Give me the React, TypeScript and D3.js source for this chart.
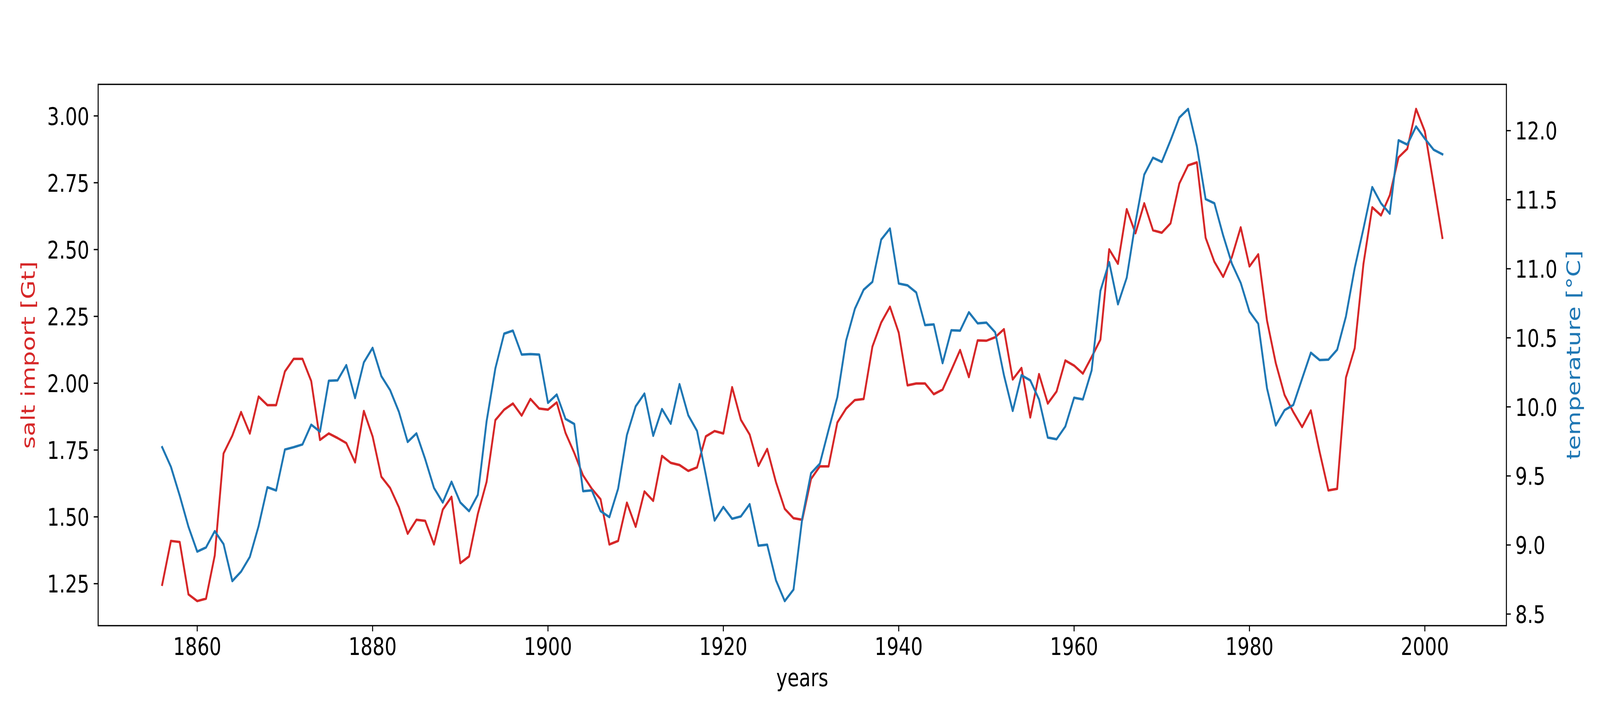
import * as d3 from "d3";

// years and the two series
const years: number[] = d3.range(1856, 2003);

const saltImport: number[] = [
  1.246, 1.41, 1.406, 1.21, 1.185, 1.194, 1.356, 1.737, 1.804, 1.892,
  1.812, 1.95, 1.918, 1.918, 2.044, 2.091, 2.091, 2.008, 1.788, 1.812,
  1.795, 1.776, 1.704, 1.896, 1.801, 1.65, 1.608, 1.536, 1.437, 1.489,
  1.485, 1.397, 1.527, 1.575, 1.327, 1.352, 1.511, 1.631, 1.862, 1.901,
  1.924, 1.879, 1.941, 1.905, 1.901, 1.928, 1.814, 1.739, 1.655, 1.605,
  1.566, 1.397, 1.41, 1.553, 1.463, 1.595, 1.56, 1.728, 1.702, 1.694,
  1.672, 1.685, 1.801, 1.821, 1.812, 1.985, 1.863, 1.808, 1.691, 1.754,
  1.63, 1.53, 1.495, 1.489, 1.642, 1.689, 1.689, 1.853, 1.905, 1.937,
  1.941, 2.137, 2.227, 2.286, 2.189, 1.992, 1.999, 1.999, 1.959, 1.976,
  2.049, 2.124, 2.023, 2.16, 2.159, 2.172, 2.202, 2.014, 2.057, 1.872,
  2.034, 1.924, 1.969, 2.085, 2.066, 2.036, 2.098, 2.163, 2.501, 2.447,
  2.651, 2.561, 2.673, 2.572, 2.563, 2.598, 2.747, 2.815, 2.826, 2.544,
  2.454, 2.398, 2.473, 2.583, 2.437, 2.482, 2.234, 2.075, 1.956, 1.892,
  1.836, 1.898, 1.743, 1.599, 1.605, 2.021, 2.131, 2.447, 2.658, 2.628,
  2.703, 2.845, 2.877, 3.026, 2.942, 2.744, 2.544,
];

const temperature: number[] = [
  9.708, 9.566, 9.358, 9.132, 8.952, 8.982, 9.1, 9.007, 8.739, 8.807,
  8.914, 9.137, 9.418, 9.395, 9.691, 9.708, 9.728, 9.871, 9.821, 10.189,
  10.192, 10.302, 10.064, 10.322, 10.427, 10.222, 10.121, 9.964, 9.746, 9.808,
  9.621, 9.413, 9.308, 9.458, 9.308, 9.245, 9.363, 9.896, 10.279, 10.53,
  10.552, 10.379, 10.382, 10.379, 10.029, 10.089, 9.913, 9.876, 9.39, 9.395,
  9.245, 9.202, 9.408, 9.796, 10.004, 10.096, 9.791, 9.984, 9.878, 10.164,
  9.939, 9.826, 9.508, 9.177, 9.275, 9.19, 9.207, 9.295, 8.995, 9.002,
  8.744, 8.594, 8.677, 9.195, 9.52, 9.588, 9.833, 10.071, 10.48, 10.71,
  10.848, 10.905, 11.211, 11.291, 10.893, 10.88, 10.828, 10.592, 10.597, 10.317,
  10.555, 10.552, 10.685, 10.605, 10.61, 10.54, 10.229, 9.971, 10.229, 10.192,
  10.054, 9.778, 9.766, 9.858, 10.066, 10.054, 10.264, 10.84, 11.048, 10.743,
  10.935, 11.336, 11.682, 11.804, 11.774, 11.93, 12.095, 12.157, 11.887, 11.504,
  11.474, 11.241, 11.036, 10.898, 10.69, 10.602, 10.134, 9.866, 9.976, 10.014,
  10.204, 10.392, 10.339, 10.342, 10.414, 10.655, 11.005, 11.291, 11.591, 11.474,
  11.399, 11.93, 11.899, 12.03, 11.942, 11.862, 11.829,
];

const xTicks: number[] = [1860, 1880, 1900, 1920, 1940, 1960, 1980, 2000];
const saltTicks: number[] = [1.25, 1.5, 1.75, 2.0, 2.25, 2.5, 2.75, 3.0];
const tempTicks: number[] = [8.5, 9.0, 9.5, 10.0, 10.5, 11.0, 11.5, 12.0];

const width = 5282;
const height = 1800;
const margin = { top: 216, right: 309, bottom: 198, left: 324 };
const red = "#d62728";
const blue = "#1f77b4";
const font = "DejaVu Sans";
const fontSize = 62.5;
const tickLen = 14.6;
const tickPad = 14.6;

// matplotlib style 5% padding around the data
const padded = (vals: number[]): [number, number] => {
  const [lo, hi] = d3.extent(vals) as [number, number];
  const m = (hi - lo) * 0.05;
  return [lo - m, hi + m];
};

const App = () => {
  const left = margin.left;
  const right = width - margin.right;
  const top = margin.top;
  const bottom = height - margin.bottom;

  const x = d3.scaleLinear().domain(padded(years)).range([left, right]);
  const ySalt = d3.scaleLinear().domain(padded(saltImport)).range([bottom, top]);
  const yTemp = d3.scaleLinear().domain(padded(temperature)).range([bottom, top]);

  const saltLine = d3
    .line<number>()
    .x((_, i) => x(years[i]))
    .y((d) => ySalt(d));
  const tempLine = d3
    .line<number>()
    .x((_, i) => x(years[i]))
    .y((d) => yTemp(d));

  // the svg fills the whole window, whatever size it really has
  return (
    <svg
      viewBox={`0 0 ${width} ${height}`}
      preserveAspectRatio="none"
      style={{
        position: "absolute",
        left: 0,
        top: 0,
        width: "100vw",
        height: "100vh",
        display: "block",
        background: "#fff",
      }}
      fontFamily={font}
      fontSize={fontSize}
    >
      <rect width={width} height={height} fill="#fff" />

      <path
        d={saltLine(saltImport) || ""}
        fill="none"
        stroke={red}
        strokeWidth={6.25}
        strokeLinejoin="round"
        strokeLinecap="square"
      />
      <path
        d={tempLine(temperature) || ""}
        fill="none"
        stroke={blue}
        strokeWidth={6.25}
        strokeLinejoin="round"
        strokeLinecap="square"
      />

      {/* x axis */}
      {xTicks.map((t) => (
        <g key={"x" + t}>
          <line x1={x(t)} x2={x(t)} y1={bottom} y2={bottom + tickLen} stroke="#000" strokeWidth={3.33} />
          <text x={x(t)} y={bottom + tickLen + tickPad + 46} textAnchor="middle">
            {t}
          </text>
        </g>
      ))}
      <text x={(left + right) / 2} y={1757} textAnchor="middle">
        years
      </text>

      {/* left axis */}
      {saltTicks.map((t) => (
        <g key={"s" + t}>
          <line x1={left - tickLen} x2={left} y1={ySalt(t)} y2={ySalt(t)} stroke="#000" strokeWidth={3.33} />
          <text x={left - tickLen - tickPad} y={ySalt(t)} dy="0.365em" textAnchor="end">
            {d3.format(".2f")(t)}
          </text>
        </g>
      ))}
      <text
        transform={`translate(115,${(top + bottom) / 2}) rotate(-90)`}
        textAnchor="middle"
        fill={red}
      >
        salt import [Gt]
      </text>

      {/* right axis */}
      {tempTicks.map((t) => (
        <g key={"t" + t}>
          <line x1={right} x2={right + tickLen} y1={yTemp(t)} y2={yTemp(t)} stroke="#000" strokeWidth={3.33} />
          <text x={right + tickLen + tickPad} y={yTemp(t)} dy="0.365em" textAnchor="start">
            {d3.format(".1f")(t)}
          </text>
        </g>
      ))}
      <text
        transform={`translate(5216,${(top + bottom) / 2}) rotate(-90)`}
        textAnchor="middle"
        fill={blue}
      >
        temperature [°C]
      </text>

      <rect
        x={left}
        y={top}
        width={right - left}
        height={bottom - top}
        fill="none"
        stroke="#000"
        strokeWidth={3.33}
      />
    </svg>
  );
};

export default App;
